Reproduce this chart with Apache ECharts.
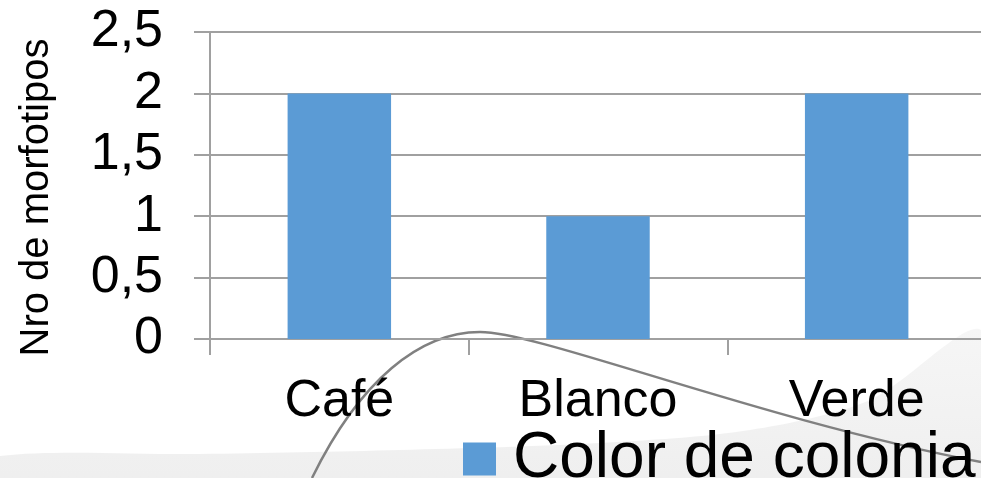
<!DOCTYPE html>
<html>
<head>
<meta charset="utf-8">
<script src="https://cdn.jsdelivr.net/npm/echarts@6/dist/echarts.min.js"></script>
<style>
html,body{margin:0;padding:0;background:#fff;}
#chart{width:981px;height:478px;}
</style>
</head>
<body>
<div id="chart"></div>
<script>
const categories = ['Café', 'Blanco', 'Verde'];
const seriesName = 'Color de colonia';
const values = [2, 1, 2];
const yTicks = [0, 0.5, 1, 1.5, 2, 2.5];
const yAxisTitle = 'Nro de morfotipos';

const chart = echarts.init(document.getElementById('chart'), null, {renderer: 'canvas'});
const FONT = '"Liberation Sans", Arial, sans-serif';

chart.setOption({
  animation: false,
  backgroundColor: '#ffffff',
  graphic: [
    {
      type: 'polygon', z: -10, silent: true,
      shape: { points: [[0,456],[200,454],[400,450],[600,443],[750,430],[870,400],[981,330],[981,478],[0,478]], smooth: 0.3 },
      style: {
        fill: { type: 'linear', x: 0, y: 0, x2: 0, y2: 1, colorStops: [
          { offset: 0, color: '#f6f6f6' }, { offset: 1, color: '#eeeeee' } ] }
      }
    },
    {
      type: 'bezierCurve', z: -5, silent: true,
      shape: { x1: 312, y1: 478, cpx1: 360, cpy1: 380, cpx2: 420, cpy2: 332, x2: 480, y2: 332 },
      style: { stroke: '#808080', lineWidth: 2.5, fill: null }
    },
    {
      type: 'bezierCurve', z: -5, silent: true,
      shape: { x1: 480, y1: 332, cpx1: 540, cpy1: 332, cpx2: 760, cpy2: 420, x2: 981, y2: 462 },
      style: { stroke: '#808080', lineWidth: 2.5, fill: null }
    }
  ],
  grid: { left: 210, right: -5, top: 32, bottom: 139, containLabel: false, outerBoundsMode: 'none' },
  legend: {
    data: [seriesName],
    left: 463, top: 427, padding: 0,
    itemWidth: 33, itemHeight: 33, itemGap: 10,
    icon: 'rect',
    textStyle: { fontFamily: FONT, fontSize: 64, color: '#000', padding: [0,0,0,12] }
  },
  xAxis: {
    type: 'category',
    data: categories,
    axisLine: { show: true, lineStyle: { color: '#a0a0a0', width: 2 } },
    axisTick: { show: true, length: 16, alignWithLabel: false, lineStyle: { color: '#a0a0a0', width: 2 } },
    axisLabel: { fontFamily: FONT, fontSize: 52, color: '#000', margin: 37 }
  },
  yAxis: {
    type: 'value',
    min: 0, max: 2.5, interval: 0.5,
    name: yAxisTitle,
    nameLocation: 'middle',
    nameGap: 153,
    nameTextStyle: { fontFamily: FONT, fontSize: 40, color: '#000', padding: [0, 24, 0, 0] },
    axisLine: { show: true, lineStyle: { color: '#a0a0a0', width: 2 } },
    axisTick: { show: true, length: 16, lineStyle: { color: '#a0a0a0', width: 2 } },
    splitLine: { show: true, lineStyle: { color: '#a0a0a0', width: 2 } },
    axisLabel: {
      fontFamily: FONT, fontSize: 52, color: '#000', margin: 47,
      formatter: v => yTicks.includes(v) ? String(v).replace('.', ',') : ''
    }
  },
  series: [{
    name: seriesName,
    type: 'bar',
    data: values,
    barWidth: '40%',
    itemStyle: { color: '#5b9bd5' }
  }]
});
</script>
</body>
</html>
